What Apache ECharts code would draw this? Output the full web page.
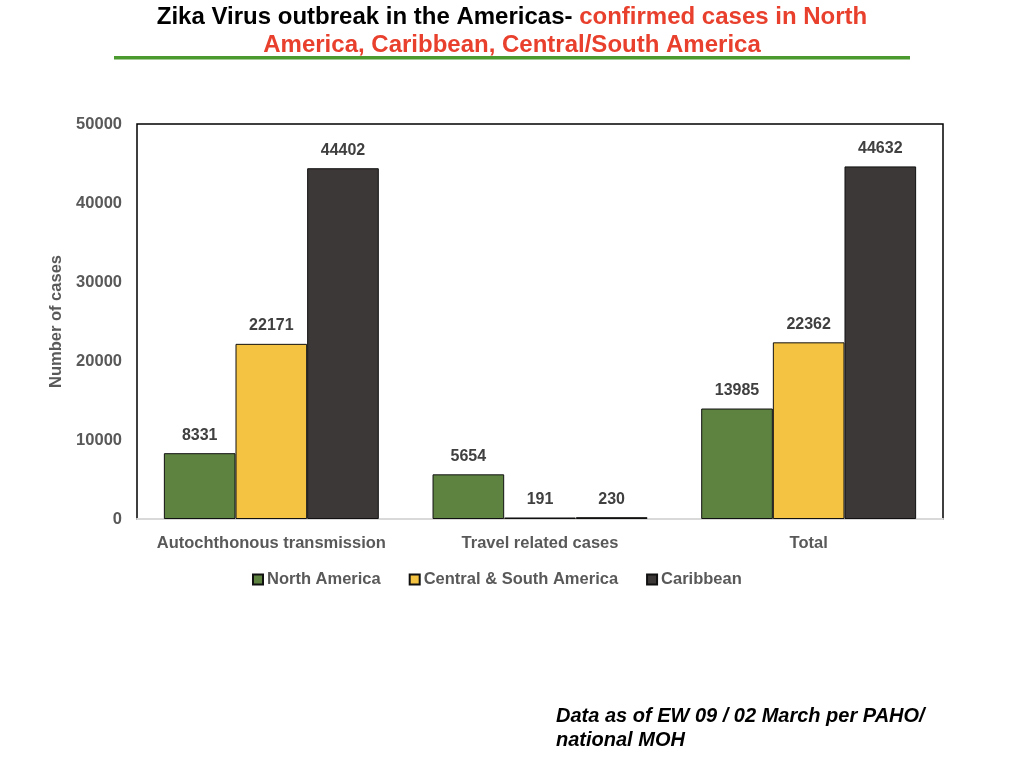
<!DOCTYPE html>
<html>
<head>
<meta charset="utf-8">
<script src="https://cdn.jsdelivr.net/npm/echarts@6/dist/echarts.min.js"></script>
<style>
  html, body { margin: 0; padding: 0; background: #fff; }
  #main { width: 1024px; height: 768px; }
</style>
</head>
<body>
<div id="main"></div>
<script>
var categories = ['Autochthonous transmission', 'Travel related cases', 'Total'];
var seriesNames = ['North America', 'Central & South America', 'Caribbean'];
var northAmerica = [8331, 5654, 13985];
var centralSouth = [22171, 191, 22362];
var caribbean = [44402, 230, 44632];
var colors = ['#5e8340', '#f4c342', '#3c3837'];

var myChart = echarts.init(document.getElementById('main'));

var bodyFont = '"Liberation Sans", Arial, sans-serif';

function makeSeries(name, data, color) {
    return {
        name: name,
        type: 'bar',
        data: data,
        barGap: '0%',
        barCategoryGap: '20%',
        itemStyle: { color: color, borderColor: '#111', borderWidth: 1 },
        label: {
            show: true,
            position: 'top',
            distance: 10,
            color: '#404040',
            fontWeight: 'bold',
            fontSize: 16,
            fontFamily: bodyFont
        }
    };
}

var option = {
    animation: false,
    backgroundColor: '#fff',
    grid: {
        left: 137, right: 81, top: 124, bottom: 249,
        show: true,
        borderColor: '#000',
        borderWidth: 1.5
    },
    legend: {
        data: seriesNames,
        top: 566,
        left: 247,
        icon: 'rect',
        itemWidth: 10,
        itemHeight: 10,
        itemGap: 28,
        textStyle: { color: '#595959', fontWeight: 'bold', fontSize: 16.5, fontFamily: bodyFont, padding: [0, 0, 0, -1] }
    },
    xAxis: {
        type: 'category',
        data: categories,
        axisLine: { lineStyle: { color: '#d9d9d9', width: 2 } },
        axisTick: { show: false },
        axisLabel: { interval: 0, color: '#595959', fontWeight: 'bold', fontSize: 16.5, fontFamily: bodyFont, margin: 16 }
    },
    yAxis: {
        type: 'value',
        min: 0,
        max: 50000,
        interval: 10000,
        name: 'Number of cases',
        nameLocation: 'middle',
        nameGap: 62,
        nameTextStyle: { color: '#595959', fontWeight: 'bold', fontSize: 16.5, fontFamily: bodyFont },
        splitLine: { show: false },
        axisLine: { show: false },
        axisTick: { show: false },
        axisLabel: {
            color: '#595959', fontWeight: 'bold', fontSize: 16.5, fontFamily: bodyFont, margin: 15,
            formatter: function (v) { return String(v); }
        }
    },
    graphic: [
        {
            type: 'text', x: 512, y: 3,
            style: {
                text: '{b|Zika Virus outbreak in the Americas- }{r|confirmed cases in North}\n{r|America, Caribbean, Central/South America}',
                align: 'center',
                rich: {
                    b: { fill: '#000', font: 'bold 24px ' + bodyFont, lineHeight: 28 },
                    r: { fill: '#e8402d', font: 'bold 24px ' + bodyFont, lineHeight: 28 }
                }
            }
        },
        { type: 'rect', shape: { x: 114, y: 56, width: 796, height: 3.5 }, style: { fill: '#4a9a2f' } },
        {
            type: 'text', left: 556, top: 704,
            style: {
                text: 'Data as of EW 09 / 02 March per PAHO/\nnational MOH',
                fill: '#000',
                font: 'italic bold 20px ' + bodyFont,
                lineHeight: 24
            }
        }
    ],
    series: [
        makeSeries(seriesNames[0], northAmerica, colors[0]),
        makeSeries(seriesNames[1], centralSouth, colors[1]),
        makeSeries(seriesNames[2], caribbean, colors[2])
    ]
};

myChart.setOption(option);
</script>
</body>
</html>
